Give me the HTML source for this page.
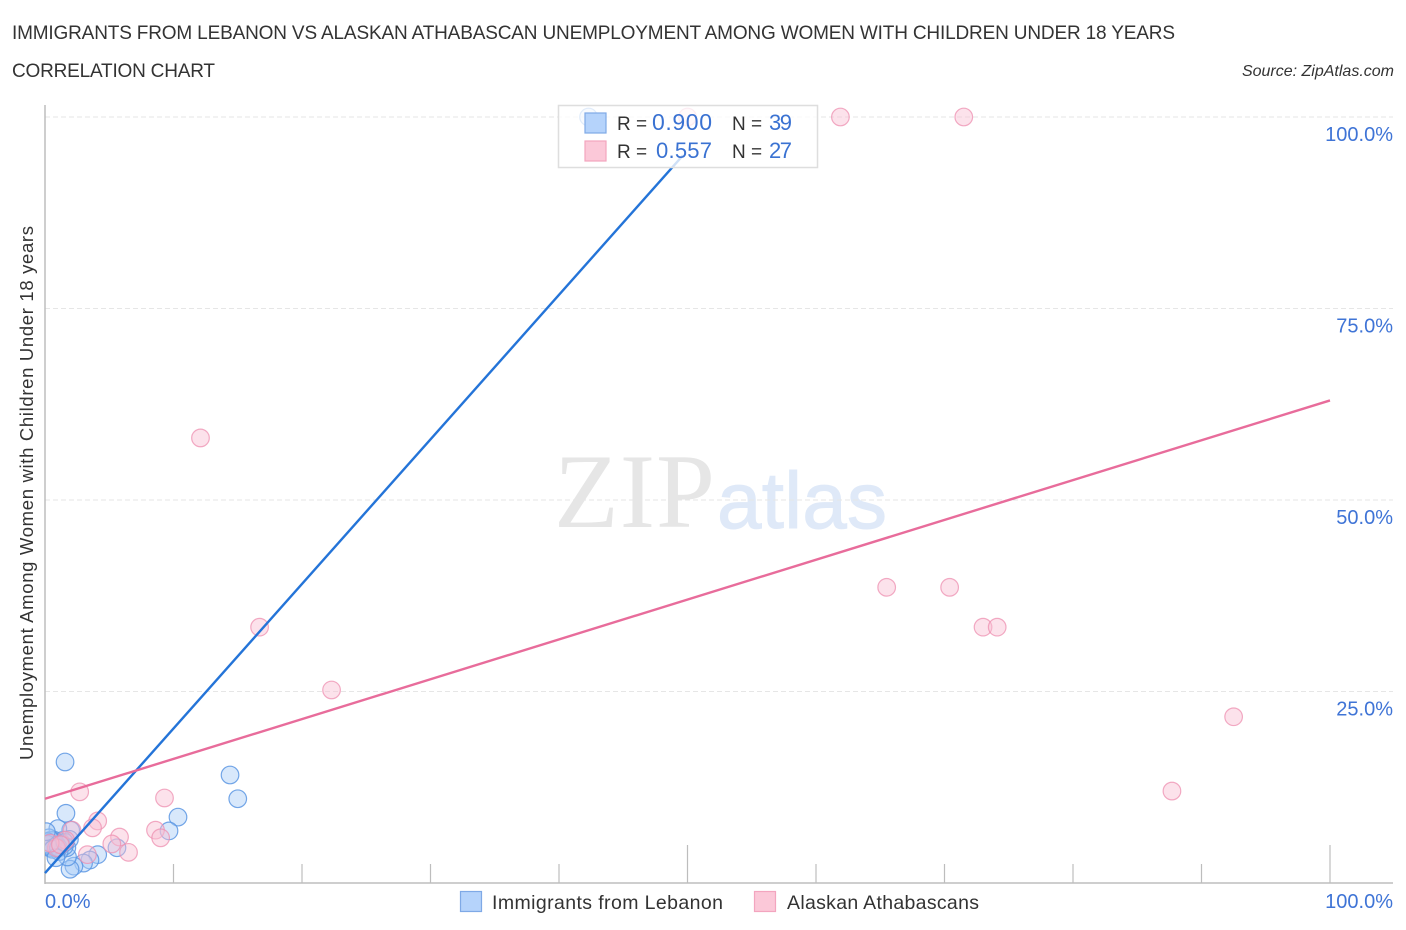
<!DOCTYPE html>
<html lang="en">
<head>
<meta charset="utf-8">
<title>Immigrants from Lebanon vs Alaskan Athabascan Unemployment Correlation Chart</title>
<style>
html,body{margin:0;padding:0;background:#fff}
svg{display:block}
text{font-family:"Liberation Sans",sans-serif}
</style>
</head>
<body>
<svg id="chart" xmlns="http://www.w3.org/2000/svg" width="1406" height="930" viewBox="0 0 1406 930">
  <rect width="1406" height="930" fill="#fff"/>
  <text x="12" y="39" font-size="19" fill="#333" textLength="1163">IMMIGRANTS FROM LEBANON VS ALASKAN ATHABASCAN UNEMPLOYMENT AMONG WOMEN WITH CHILDREN UNDER 18 YEARS</text>
  <text x="12" y="77" font-size="19" fill="#333" textLength="203">CORRELATION CHART</text>
  <text x="1394" y="76" font-size="16" font-style="italic" fill="#333" text-anchor="end">Source: ZipAtlas.com</text>

  <g>
    <text x="554" y="527" font-size="106" fill="#e6e6e6" style="font-family:'Liberation Serif',serif" textLength="161">ZIP</text>
    <text x="717" y="528" font-size="80" fill="#dfe9f8" stroke="#dfe9f8" stroke-width="1" textLength="170">atlas</text>
  </g>

  <g id="grid"></g>
  <g id="axes"></g>
  <clipPath id="plot-clip"><rect id="clip-rect"/></clipPath>
  <g id="points" clip-path="url(#plot-clip)"></g>
  <g id="trends"></g>

  <text transform="translate(33,760) rotate(-90)" font-size="18.5" fill="#333" textLength="534">Unemployment Among Women with Children Under 18 years</text>

  <g>
    <rect x="558.5" y="105.5" width="259" height="62" fill="#fff" fill-opacity="0.78" stroke="#dedede" stroke-width="1.5"/>
    <rect x="585" y="113" width="21" height="20" fill="#b5d3fb" stroke="#7fa9e6" stroke-width="1.2"/>
    <text x="617" y="130" font-size="19" fill="#333">R =</text>
    <text x="652" y="130" font-size="23" fill="#3a72d2" textLength="60">0.900</text>
    <text x="732" y="130" font-size="19" fill="#333">N =</text>
    <text x="769" y="130" font-size="22" fill="#3a72d2" textLength="23">39</text>
    <rect x="585" y="141" width="21" height="20" fill="#fbc8d8" stroke="#f3a5bf" stroke-width="1.2"/>
    <text x="617" y="158" font-size="19" fill="#333">R =</text>
    <text x="656" y="158" font-size="22" fill="#3a72d2" textLength="56">0.557</text>
    <text x="732" y="158" font-size="19" fill="#333">N =</text>
    <text x="769" y="158" font-size="22" fill="#3a72d2" textLength="23">27</text>
  </g>

  <g>
    <g>
      <rect x="460.5" y="891.5" width="21" height="20" fill="#b5d3fb" stroke="#7fa9e6" stroke-width="1.2"/>
      <text x="492" y="909" font-size="19.5" fill="#333" textLength="231">Immigrants from Lebanon</text>
    </g>
    <g>
      <rect x="754.5" y="891.5" width="21" height="20" fill="#fbc8d8" stroke="#f3a5bf" stroke-width="1.2"/>
      <text x="787" y="909" font-size="19.5" fill="#333" textLength="192">Alaskan Athabascans</text>
    </g>
  </g>
</svg>
<script>
const yTickValues = [25, 50, 75, 100];
const yTickLabels = ["25.0%", "50.0%", "75.0%", "100.0%"];
const xTickValues = [0, 10, 20, 30, 40, 50, 60, 70, 80, 90, 100];
const xEndLabels = ["0.0%", "100.0%"];
const lebanonX = [42.3, 1.56, 14.4, 15.0, 10.35, 9.65, 1.63, 5.6, 4.1, 3.5, 3.0, 2.25, 1.95, 1.75, 2.0, 1.9, 1.7, 1.5, 1.4, 1.2, 1.1, 1.0, 0.9, 0.8, 0.7, 0.6, 0.5, 0.45, 0.4, 0.35, 0.3, 0.25, 0.2, 0.15, 0.1, 0.6, 1.05, 1.55, 0.85];
const lebanonY = [100, 15.8, 14.1, 11.0, 8.6, 6.8, 9.1, 4.6, 3.7, 3.0, 2.6, 2.2, 1.8, 3.4, 6.9, 5.7, 4.6, 4.8, 5.6, 5.4, 4.1, 7.1, 5.0, 4.6, 5.6, 5.5, 4.7, 5.6, 5.2, 4.6, 5.9, 4.9, 5.4, 5.1, 6.7, 4.4, 4.6, 5.3, 3.3];
const athabascanX = [50, 61.9, 71.5, 12.1, 16.7, 22.3, 65.5, 70.4, 73, 74.1, 92.5, 87.7, 2.7, 9.3, 8.6, 9, 4.1, 3.7, 5.8, 5.2, 6.5, 3.3, 2.1, 1.6, 0.9, 0.4, 1.2];
const athabascanY = [100, 100, 100, 58.1, 33.4, 25.2, 38.6, 38.6, 33.4, 33.4, 21.7, 12, 11.9, 11.1, 6.9, 5.9, 8.1, 7.2, 6, 5.1, 4, 3.7, 6.9, 5.6, 4.6, 5.2, 5.0];
const lebanonTrendX = [0, 49.65];
const lebanonTrendY = [1.3, 95];
const athabascanTrendX = [0, 100];
const athabascanTrendY = [11, 63];

const SVG_NS = "http://www.w3.org/2000/svg";
const sx = v => 45 + 12.85 * v;
const sy = v => 883 - 7.66 * v;
const make = (tag, attrs, parent) => {
  const el = document.createElementNS(SVG_NS, tag);
  Object.keys(attrs).forEach(k => el.setAttribute(k, attrs[k]));
  parent.appendChild(el);
  return el;
};
const grid = document.getElementById("grid");
const axes = document.getElementById("axes");
const points = document.getElementById("points");
const trends = document.getElementById("trends");
const clip = document.getElementById("clip-rect");
clip.setAttribute("x", sx(0));
clip.setAttribute("y", sy(104));
clip.setAttribute("width", sx(100) - sx(0) + 70);
clip.setAttribute("height", sy(0) - sy(104));

yTickValues.forEach((v, i) => {
  const line = make("line", {x1: sx(0), x2: 1393, y1: sy(v), y2: sy(v), stroke: "#e6e6e6", "stroke-width": 1, "stroke-dasharray": "5 3"}, grid);
  
  
  const label = make("text", {x: 1393, y: sy(v) + 24, "font-size": 20, fill: "#3f74d6", "text-anchor": "end"}, axes);
  label.textContent = yTickLabels[i];
  
  
});

const yAxis = make("line", {x1: sx(0), x2: sx(0), y1: 105, y2: sy(0) + 1, stroke: "#bdbdbd", "stroke-width": 1.5}, axes);


const xAxis = make("line", {x1: sx(0), x2: sx(100) + 63, y1: sy(0), y2: sy(0), stroke: "#bdbdbd", "stroke-width": 1.5}, axes);



xTickValues.forEach(v => {
  const tall = v === 50 || v === 100;
  const tick = make("line", {x1: sx(v), x2: sx(v), y1: sy(0) - (tall ? 38 : 19), y2: sy(0), stroke: "#bdbdbd", "stroke-width": 1.2}, axes);
  
  
});

const xLabelStart = make("text", {x: 45, y: 908, "font-size": 20, fill: "#3f74d6"}, axes);
xLabelStart.textContent = xEndLabels[0];


const xLabelEnd = make("text", {x: 1393, y: 908, "font-size": 20, fill: "#3f74d6", "text-anchor": "end"}, axes);
xLabelEnd.textContent = xEndLabels[1];



lebanonX.forEach((v, i) => {
  const dot = make("circle", {cx: sx(v), cy: sy(lebanonY[i]), r: 8.8, fill: "#a9cbf7", "fill-opacity": 0.45, stroke: "#5c97e3", "stroke-opacity": 0.85, "stroke-width": 1.2}, points);
  
  
});
athabascanX.forEach((v, i) => {
  const dot = make("circle", {cx: sx(v), cy: sy(athabascanY[i]), r: 8.8, fill: "#f9bfd2", "fill-opacity": 0.45, stroke: "#ee8fb0", "stroke-opacity": 0.75, "stroke-width": 1.2}, points);
  
  
});

const lebanonLine = make("line", {x1: sx(lebanonTrendX[0]), y1: sy(lebanonTrendY[0]), x2: sx(lebanonTrendX[1]), y2: sy(lebanonTrendY[1]), stroke: "#2474d8", "stroke-width": 2.4}, trends);


const athabascanLine = make("line", {x1: sx(athabascanTrendX[0]), y1: sy(athabascanTrendY[0]), x2: sx(athabascanTrendX[1]), y2: sy(athabascanTrendY[1]), stroke: "#e86c9b", "stroke-width": 2.4}, trends);


</script>
</body>
</html>
